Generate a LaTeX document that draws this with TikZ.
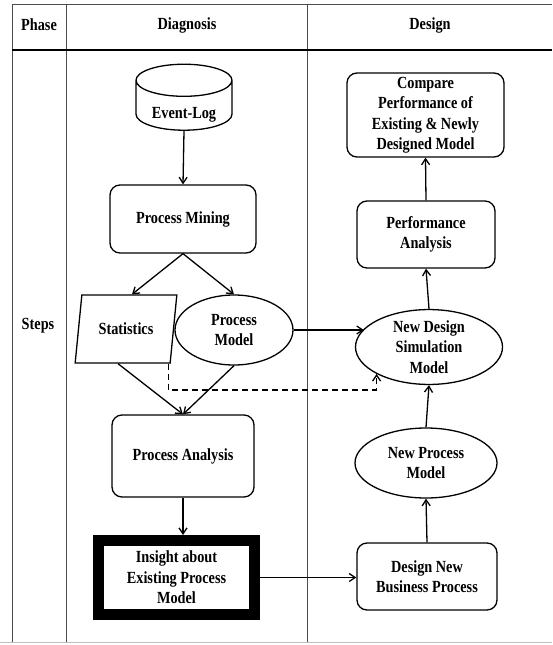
\documentclass[tikz,border=0pt]{standalone}
\usepackage{fontspec}
\setmainfont[FakeStretch=0.84]{Liberation Serif}
\usetikzlibrary{shapes,arrows.meta,positioning,calc}

\begin{document}
\begin{tikzpicture}[x=1pt,y=-1pt,
  every node/.style={font=\bfseries\fontsize{17}{20.5}\selectfont, align=center},
  box/.style={rectangle, draw, rounded corners=10pt, line width=1.3pt},
  oval/.style={ellipse, draw, line width=1.3pt, inner sep=0pt},
  arr/.style={-{Straight Barb[length=6pt,width=8pt]}, line width=1.3pt},
  grid/.style={draw=black!70, line width=0.9pt}]
\useasboundingbox (0,0) rectangle (552,645);

% table of phases
\draw[grid] (12,4) -- (552,4);
\draw[grid] (12,4) -- (12,643) (66,4) -- (66,643) (307,4) -- (307,643);
\draw[line width=2pt] (12,50) -- (552,50);
\draw[black!25, line width=0.9pt] (0,642) -- (552,642);
\node (phase) at (39,25) {Phase};
\node (diagnosis) at (187,25) {Diagnosis};
\node (design) at (430,25) {Design};
\node (steps) at (38,326) {Steps};

% diagnosis
\node[cylinder, shape border rotate=90, aspect=0.4, draw, line width=1.3pt, minimum width=96pt, minimum height=66pt, inner xsep=8pt] (eventlog) at (184,110) {\raisebox{-8pt}[0pt][0pt]{Event-Log}};
\node[box, minimum width=146pt, minimum height=68pt] (mining) at (183,219) {Process Mining};
\node[trapezium, trapezium left angle=76, trapezium right angle=104, trapezium stretches=true, draw, line width=1.3pt, minimum width=102pt, minimum height=68pt] (stats) at (126,329) {Statistics};
\node[oval, minimum width=118pt, minimum height=70pt] (pmodel) at (234,330) {Process\\Model};
\node[box, minimum width=142pt, minimum height=82pt] (analysis) at (183,456) {Process Analysis};
\node[draw, line width=11pt, inner sep=1pt, minimum width=156pt, minimum height=74pt] (insight) at (176.5,577.5) {Insight about\\Existing Process\\Model};

% design
\node[box, minimum width=140pt, minimum height=67pt] (designnew) at (427,576.5) {Design New\\Business Process};
\node[oval, minimum width=142pt, minimum height=70pt] (npmodel) at (426,463) {New Process\\Model};
\node[oval, minimum width=147pt, minimum height=72pt] (ndsm) at (429,347) {New Design\\Simulation\\Model};
\node[box, minimum width=138pt, minimum height=67pt] (perf) at (426,234.5) {Performance\\Analysis};
\node[box, inner sep=1pt, minimum width=157pt, minimum height=84pt] (compare) at (425.5,115) {Compare\\Performance of\\Existing \& Newly\\Designed Model};

\draw[arr] (eventlog.south) -- (mining.north);
\draw[arr] (mining.south) -- ($(stats.north)+(6,0)$);
\draw[arr] (mining.south) -- (pmodel.north);
\draw[arr] ($(stats.south)+(-8,0)$) -- (analysis.north);
\draw[arr] (pmodel.south) -- (analysis.north);
\draw[arr] (analysis.south) -- (analysis.south |- insight.north);
\draw[arr] (insight.east) -- (insight.east -| designnew.west);
\draw[arr] (designnew.north) -- (npmodel.south);
\draw[arr] (npmodel.north) -- (ndsm.south);
\draw[arr] (ndsm.north) -- (perf.south);
\draw[arr] (perf.north) -- (compare.south);
\draw[arr] (pmodel.east) -- ($(pmodel.east -| ndsm.west)+(9,0)$);
\draw[arr, dashed, dash pattern=on 6pt off 4pt] ($(stats.bottom right corner)+(-2,0)$) |- ($(ndsm.south west)+(0,16)$) -- (ndsm.south west);
\end{tikzpicture}
\end{document}
